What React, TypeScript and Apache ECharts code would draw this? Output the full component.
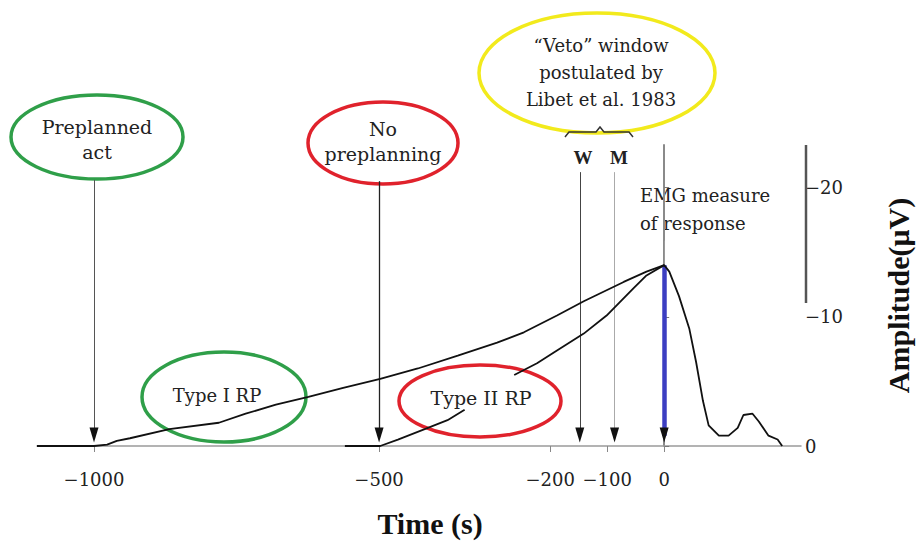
import React, { useEffect, useRef } from "react";
import * as echarts from "echarts";

// Type I readiness potential (preplanned act) followed by the EMG response
const typeITime = [-1100, -1000, -977, -960, -937, -868, -781, -734, -681, -624, -563, -498, -432, -362, -293, -246, -188, -141, -71, -31, 0, 9, 26, 44, 56, 68, 78, 96, 113, 129, 139, 155, 166, 183, 199, 207];
const typeIAmp = [0, 0, -0.1, -0.4, -0.6, -1.3, -1.8, -2.5, -3.2, -3.8, -4.5, -5.2, -6.0, -7.0, -8.0, -8.8, -10.1, -11.2, -12.7, -13.5, -14.0, -13.5, -11.6, -9.1, -6.5, -3.5, -1.6, -0.8, -0.8, -1.4, -2.4, -2.5, -1.9, -0.8, -0.5, 0];

// Type II readiness potential (no preplanning); null = hidden under the label
const typeIITime = [-560, -498, -467, -420, -380, -350, -320, -263, -223, -188, -141, -101, -54, -31, 0];
const typeIIAmp = [0, 0, -0.5, -1.3, -2.0, -2.8, null, -5.5, -6.4, -7.4, -8.7, -10.1, -12.2, -13.2, -14.0];

const xTickValues = [-1000, -500, -200, -100, 0];
const yTickValues = [-20, -10, 0];

// event arrows: preplanned act, no preplanning, W, M
const arrowTimes = [-1000, -500, -148, -87];
const arrowTops = [-20.6, -20.5, -21.2, -21.2];
const arrowColors = ["#555", "#222", "#444", "#aaa"];
const emgTime = 0;
const emgPeak = -14.0;

const SERIF = "'DejaVu Serif', 'Liberation Serif', serif";
const TIMES = "'Liberation Serif', 'Times New Roman', serif";

const minusFmt = (v: number) => (v < 0 ? "\u2212" + Math.abs(v) : String(v));

export default function App() {
  const ref = useRef<HTMLDivElement>(null);
  useEffect(() => {
    if (!ref.current) return;
    const chart = echarts.init(ref.current, null, { renderer: "svg" });
    const typeIData = typeITime.map((t, i) => [t, typeIAmp[i]]);
    const typeIIData = typeIITime.map((t, i) => [t, typeIIAmp[i]]);

    const markLines: any[] = arrowTimes.map((t, i) => [
      { coord: [t, arrowTops[i]], lineStyle: { color: arrowColors[i], width: i === 1 ? 1.3 : 1, type: "solid" } },
      { coord: [t, -0.8] },
    ]);
    markLines.push([
      { coord: [emgTime, emgPeak], lineStyle: { color: "#3c3ec2", width: 4.5, type: "solid" } },
      { coord: [emgTime, -0.8] },
    ]);
    markLines.push([
      { coord: [emgTime, -15.9], lineStyle: { color: "#999", width: 1, type: "solid" } },
      { coord: [emgTime, emgPeak] },
    ]);

    const arrowHeads = [...arrowTimes, emgTime].map((t) => ({
      coord: [t, -0.85],
      itemStyle: { color: "#111" },
    }));

    chart.setOption({
      animation: false,
      backgroundColor: "#ffffff",
      grid: { left: 37, right: 115, top: 145, bottom: 95 },
      xAxis: {
        type: "value",
        min: -1100,
        max: 240,
        name: "Time (s)",
        nameLocation: "middle",
        nameGap: 62,
        nameTextStyle: { fontFamily: TIMES, fontWeight: "bold", fontSize: 30, color: "#111", padding: [0, 0, 0, 22] },
        axisLine: { show: true, onZero: false, lineStyle: { color: "#9a9a9a", width: 1.5 } },
        axisTick: { show: true, customValues: xTickValues, length: 6, lineStyle: { color: "#888" } },
        axisLabel: {
          customValues: xTickValues,
          formatter: minusFmt,
          margin: 24,
          fontFamily: SERIF,
          fontSize: 18,
          color: "#222",
        },
        splitLine: { show: false },
      },
      yAxis: {
        type: "value",
        position: "right",
        inverse: true,
        min: -23.3,
        max: 0,
        name: "Amplitude(\u03bcV)",
        nameLocation: "middle",
        nameRotate: 90,
        nameGap: 82,
        nameTextStyle: { fontFamily: TIMES, fontWeight: "bold", fontSize: 30, color: "#111" },
        axisLine: { show: true, lineStyle: { color: "#8a8a8a", width: 2 } },
        axisTick: { show: true, customValues: yTickValues, length: 5, lineStyle: { color: "#777" } },
        axisLabel: {
          customValues: yTickValues,
          formatter: minusFmt,
          margin: 4,
          fontFamily: SERIF,
          fontSize: 18,
          color: "#222",
        },
        splitLine: { show: false },
      },
      series: [
        {
          name: "Type I RP",
          type: "line",
          data: typeIData,
          showSymbol: false,
          symbol: "none",
          lineStyle: { color: "#111", width: 1.8 },
          z: 3,
          markLine: {
            silent: true,
            symbol: ["none", "none"],
            label: { show: false },
            data: markLines,
            z: 2,
          },
          markPoint: {
            silent: true,
            symbol: "triangle",
            symbolSize: [9, 15],
            symbolRotate: 180,
            label: { show: false },
            data: arrowHeads,
            z: 4,
          },
        },
        {
          name: "Type II RP",
          type: "line",
          data: typeIIData,
          showSymbol: false,
          symbol: "none",
          connectNulls: false,
          lineStyle: { color: "#111", width: 1.8 },
          z: 3,
        },
      ],
      graphic: [
        { type: "line", z: 5, shape: { x1: 806, y1: 145, x2: 806, y2: 303 }, style: { stroke: "#555", lineWidth: 2.5 } },
        // Preplanned act
        { type: "ellipse", shape: { cx: 97, cy: 137, rx: 86, ry: 42 }, style: { fill: "none", stroke: "#2f9f49", lineWidth: 3.5 } },
        { type: "text", x: 97, y: 139, style: { text: "Preplanned\nact", align: "center", verticalAlign: "middle", font: `19px ${SERIF}`, lineHeight: 25, fill: "#222" } },
        // No preplanning
        { type: "ellipse", shape: { cx: 383, cy: 143, rx: 75, ry: 41 }, style: { fill: "none", stroke: "#e0222c", lineWidth: 3.5 } },
        { type: "text", x: 383, y: 141, style: { text: "No\npreplanning", align: "center", verticalAlign: "middle", font: `19px ${SERIF}`, lineHeight: 25, fill: "#222" } },
        // Veto window
        { type: "ellipse", shape: { cx: 597, cy: 73, rx: 118, ry: 60 }, style: { fill: "none", stroke: "#f2ea1c", lineWidth: 3.5 } },
        { type: "text", x: 601, y: 72, style: { text: "\u201cVeto\u201d window\npostulated by\nLibet et al. 1983", align: "center", verticalAlign: "middle", font: `18px ${SERIF}`, lineHeight: 27, fill: "#222" } },
        { type: "polyline", shape: { points: [[565, 137], [569, 132], [596, 132], [600, 127], [604, 132], [629, 132], [633, 137]] }, style: { fill: "none", stroke: "#333", lineWidth: 1.5 } },
        { type: "text", x: 583, y: 157, style: { text: "W", align: "center", verticalAlign: "middle", font: `bold 19px ${TIMES}`, fill: "#222" } },
        { type: "text", x: 619, y: 157, style: { text: "M", align: "center", verticalAlign: "middle", font: `bold 19px ${TIMES}`, fill: "#222" } },
        // EMG label
        { type: "text", x: 640, y: 209, style: { text: "EMG measure\nof response", align: "left", verticalAlign: "middle", font: `18px ${SERIF}`, lineHeight: 28, fill: "#222" } },
        // Type I RP
        { type: "ellipse", shape: { cx: 224, cy: 397, rx: 82, ry: 45 }, style: { fill: "none", stroke: "#2f9f49", lineWidth: 3.5 } },
        { type: "text", x: 217, y: 395, style: { text: "Type I RP", align: "center", verticalAlign: "middle", font: `18px ${SERIF}`, fill: "#222" } },
        // Type II RP
        { type: "ellipse", shape: { cx: 480, cy: 401, rx: 81, ry: 36 }, style: { fill: "none", stroke: "#e0222c", lineWidth: 3.5 } },
        { type: "text", x: 481, y: 398, style: { text: "Type II RP", align: "center", verticalAlign: "middle", font: `19px ${SERIF}`, fill: "#222" } },
      ],
    });
    return () => chart.dispose();
  }, []);
  return <div ref={ref} style={{ position: "fixed", left: 0, top: 0, width: 921, height: 543 }} />;
}
